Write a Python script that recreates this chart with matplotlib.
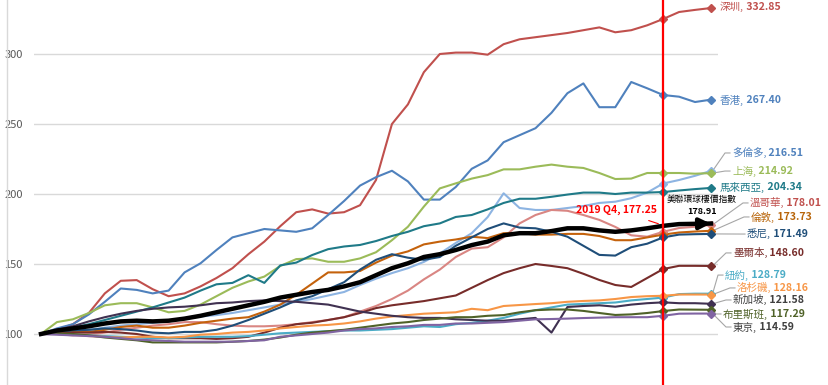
import numpy as np
import matplotlib
matplotlib.use('Agg')
import matplotlib.pyplot as plt
from matplotlib.lines import Line2D

plt.rcParams['font.family'] = ['Noto Sans CJK TC', 'DejaVu Sans']

# quarterly index, 2010 Q1 .. 2020 Q3 (2010 Q1 = 100)
shenzhen = [100, 103, 107, 115, 129, 138, 138.5, 132, 127, 129, 134, 140, 147, 157, 166, 177, 187, 189, 186, 187, 192,
            210, 250, 264, 287, 300, 301, 301, 299.5, 307, 310.5, 312, 313.5, 315, 317, 319, 315.5, 317, 320.5, 325, 330, 331.5, 332.85]
hongkong = [100, 104, 107, 114, 123, 132.5, 131.5, 129, 131, 144, 150.5, 160, 169, 172, 175, 174, 173, 175.5, 185, 195, 206,
            212, 216.6, 209, 196, 196, 205, 218, 224, 237, 242, 247, 258, 272, 279, 262, 262, 280, 275.5, 270.7, 269.5, 265.7, 267.40]
toronto = [100, 101, 102, 103, 104.5, 106, 107, 108, 109, 111, 112.5, 113.5, 115, 117, 119, 121, 123, 125, 127.5, 130, 135,
           139.5, 143.5, 147, 151.5, 157.5, 165, 172, 183.5, 200.5, 190, 188.6, 188.6, 190, 191.4, 193.6, 194.5, 197, 201, 207.5, 210, 213, 216.51]
shanghai = [100, 108.5, 110.5, 115, 120.5, 122, 122, 119, 115.5, 116.5, 121, 127, 133, 137.5, 141, 148.6, 153.5, 154, 151.6, 151.6, 154,
            158.4, 167, 176.6, 191, 204, 207.6, 211, 213.5, 217.6, 217.6, 219.5, 221, 219.5, 218.6, 215, 210.7, 211, 215, 215, 215, 214.5, 214.92]
malaysia = [100, 102, 104.5, 107, 110, 113, 116, 119, 122.5, 126, 131, 135.5, 136.5, 142, 136.5, 149, 151, 156.4, 160.6, 162.5, 163.6,
            166.4, 170, 173, 177, 179, 183.6, 185, 189, 193.6, 196.6, 196.6, 198, 199.6, 201, 201, 200, 201, 201, 201.4, 202.5, 203.5, 204.34]
vancouver = [100, 100, 99, 99.5, 101, 103, 104.5, 106, 107, 108.5, 108.5, 107, 106, 105.5, 105.5, 106, 107, 108.5, 110, 112, 116,
             120, 125, 131, 139, 146, 155, 161, 162, 169, 179, 185, 188.6, 188, 185, 181.5, 176.5, 170.5, 169.5, 173, 175.7, 176.6, 178.01]
london = [100, 101, 102, 101.5, 103, 105, 106, 104.5, 104.5, 106, 108, 109.5, 111, 112, 116, 121, 128, 136, 144, 144, 145,
          151, 156, 159, 164, 166, 167.5, 169.5, 168.5, 172, 172, 171, 171, 171.5, 171.5, 170, 167, 167, 169, 171, 172.5, 173.2, 173.73]
sydney = [100, 101, 102.5, 103, 104, 103.5, 102.5, 101, 100.5, 101.5, 101.5, 103, 106, 110, 114.5, 119, 124, 127, 132, 137, 146,
          153, 157, 154.5, 153, 155, 163, 169, 175, 179, 176, 175.5, 173, 169.5, 163, 156.5, 156, 162, 164.5, 169, 171, 171.3, 171.49]
melbourne = [100, 100.5, 101, 101, 101.5, 101, 100, 98, 97, 97, 97, 96.5, 97, 98, 101, 104.5, 107, 108, 110, 112, 115,
             118.5, 120.5, 122, 123.5, 125.5, 127.5, 133, 138.5, 143.5, 147, 150, 148.6, 147, 143, 138.6, 135, 133.6, 140, 146.4, 148.7, 148.7, 148.60]
newyork = [100, 100, 99.5, 99, 98.5, 98, 97.5, 97, 97, 97.5, 98, 98, 98, 98.5, 99.5, 100.5, 101, 101.5, 102, 102.5, 102.5,
           103, 103.5, 104.5, 105.5, 105, 107, 108, 109.5, 111.5, 114.5, 117, 119, 121, 121.5, 122, 122.5, 124, 125, 126, 128.5, 128.8, 128.79]
losangeles = [100, 100, 99.5, 98.5, 98, 97.5, 98, 98, 97.5, 98, 99.5, 100, 101, 101.5, 102.5, 104, 105, 106, 106.5, 107.5, 109,
              111, 112.5, 113.5, 114.5, 115, 115.5, 118, 117, 120, 120.7, 121.4, 122, 123, 123.6, 124, 125, 126.4, 127, 127.3, 128.2, 128.2, 128.16]
singapore = [100, 103, 105.5, 109, 112, 114.5, 116.5, 118, 119, 119.5, 120.5, 122, 122.5, 123.5, 124, 123.5, 123, 122, 121, 118.5, 116,
             114.5, 113, 112, 111.5, 111.5, 110.5, 110, 109.5, 109.5, 110.5, 111.5, 101, 119.3, 120, 120.5, 119.5, 121, 122, 122.6, 122, 122, 121.58]
brisbane = [100, 100.5, 100, 99, 97.5, 96.5, 95.5, 94, 94, 94, 94, 94, 94.5, 95, 96, 97.5, 99.5, 101, 102, 103, 104.5,
            106, 107.5, 108.5, 110, 111, 112, 112, 113, 113.5, 115.5, 117, 117.5, 117.5, 116.5, 115, 113.6, 114, 115, 116.4, 117.5, 117.4, 117.29]
tokyo = [100, 99.5, 99, 98.5, 98, 97, 96, 95.5, 95, 94.5, 94.5, 94.5, 94.5, 95, 95.5, 98, 99, 100, 101, 102.5, 103.5,
         104, 105, 105.5, 106.5, 106.5, 107.5, 107.5, 108, 108.5, 109.5, 110.5, 110.7, 111, 111.4, 111.7, 112, 112, 112, 113, 114.5, 114.6, 114.59]
global_index = [100, 102.5, 104, 105.5, 107.5, 109, 109.5, 109, 109.5, 111, 113, 115.5, 118, 120.5, 123, 126, 128, 130, 131.5, 134, 137,
                142, 147, 150.5, 155, 157, 160, 163.5, 166, 170.5, 172, 172, 173.5, 175.5, 175.5, 174, 173, 174, 175.5, 177.25, 178.5, 178.7, 178.91]

names = ['深圳', '香港', '多倫多', '上海', '馬來西亞', '溫哥華', '倫敦', '悉尼', '墨爾本', '紐約', '洛杉磯', '新加坡', '布里斯班', '東京']
series = [shenzhen, hongkong, toronto, shanghai, malaysia, vancouver, london, sydney, melbourne, newyork, losangeles, singapore, brisbane, tokyo]
colors = ['#C0504D', '#4F81BD', '#8DB4E2', '#9BBB59', '#1F7A88', '#D98683', '#C4620C', '#1F4E79', '#772C2A', '#4BACC6', '#F79646', '#403151', '#4F6228', '#8064A2']
label_colors = ['#C0504D', '#4F81BD', '#4F81BD', '#9BBB59', '#1F7A88', '#C0504D', '#B8650A', '#1F4E79', '#772C2A', '#4BACC6', '#F79646', '#404040', '#4F6228', '#404040']
# label placement: left edge (pixels right of last point), vertical position in data units, leader line?
label_dx = [9, 9, 21, 21, 9, 39, 40, 36, 22, 14, 26, 22, 12, 22]
label_y = [333.6, 267.1, 229.3, 216.4, 205.0, 193.6, 183.6, 171.4, 157.9, 142.1, 132.9, 124.3, 114.3, 105.0]
leader = [False, False, True, True, False, True, True, True, True, True, True, True, True, True]

W, H = 829, 385
fig = plt.figure(figsize=(W / 100, H / 100), dpi=100)
ax = fig.add_axes([34 / W, 0, 684 / W, 1])
n = len(global_index)
x = np.arange(n)
px = (711 - 41) / (n - 1)  # pixels per quarter
ax.set_xlim(-7 / px, n - 1 + 7 / px)
ax.set_ylim(100 - 51 / 1.4, 100 + 334 / 1.4)

for v in [100, 150, 200, 250, 300]:
    ax.axhline(v, color='#D9D9D9', lw=1.0, zorder=0)

for vals, c in zip(series, colors):
    ax.plot(x, vals, color=c, lw=1.5, zorder=2, solid_joinstyle='round')
    ax.plot([x[39], x[-1]], [vals[39], vals[-1]], ls='none', marker='D', ms=4.5, color=c, zorder=3)

ax.plot(x, global_index, color='black', lw=3.2, zorder=4, solid_joinstyle='round')
ax.annotate('', xy=(x[-1] + 0.15, global_index[-1]), xytext=(x[-2], global_index[-2]),
            arrowprops=dict(arrowstyle='-|>', color='black', lw=3, mutation_scale=16), zorder=5)

ax.axvline(39, color='red', lw=1.6, zorder=6)

for i, (nm, vals) in enumerate(zip(names, series)):
    lx = x[-1] + label_dx[i] / px
    t = ax.text(lx, label_y[i], f'{nm},', color=label_colors[i], fontsize=7.6,
                va='center', ha='left', clip_on=False)
    ax.annotate(f' {vals[-1]:.2f}', xy=(1, 0.5), xycoords=t, color=label_colors[i], fontsize=7.6,
                va='center', ha='left', fontweight='bold', annotation_clip=False)
    if leader[i]:
        ax.plot([x[-1] + 0.1, lx - 7 / px, lx - 2 / px], [vals[-1], label_y[i], label_y[i]],
                color='#A6A6A6', lw=0.8, clip_on=False, zorder=1)

ax.text(x[-1] - 0.56, 100 + (334 - 199) / 1.4, '美聯環球樓價指數', fontsize=6.3, ha='center', va='center', color='black')
ax.text(x[-1] - 0.56, 100 + (334 - 212) / 1.4, f'{global_index[-1]:.2f}', fontsize=6.5, ha='center', va='center',
        color='black', fontweight='bold')
ax.annotate(f'2019 Q4, {global_index[39]:.2f}', xy=(39 - 0.3, global_index[39] + 1.5), xytext=(36.1, 100 + (334 - 210) / 1.4),
            fontsize=7.5, color='red', fontweight='bold', ha='center', va='center',
            arrowprops=dict(arrowstyle='-', color='red', lw=0.8, shrinkA=6, shrinkB=0))

ax.set_yticks([100, 150, 200, 250, 300])
ax.tick_params(axis='y', length=0, pad=8, labelsize=8, labelcolor='#595959')
ax.set_xticks([])
for s in ax.spines.values():
    s.set_visible(False)

fig.add_artist(Line2D([7 / W, 7 / W], [0, 1], color='#D9D9D9', lw=1.0))

fig.savefig('out.png', dpi=100)
